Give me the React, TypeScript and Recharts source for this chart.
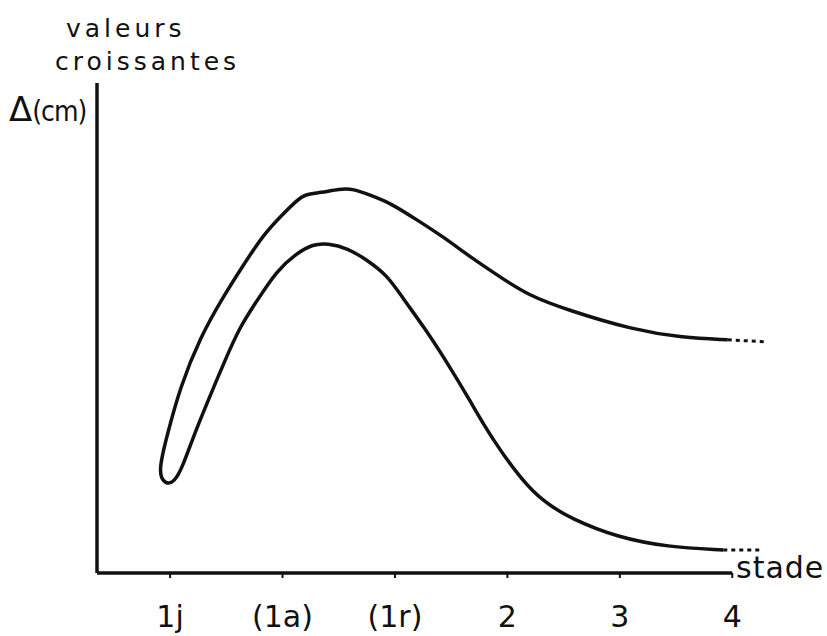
import { LineChart, Line, XAxis, YAxis, ReferenceLine } from 'recharts';

// stage axis: numeric positions and their labels
const stageTicks = [1, 2, 3, 4, 5, 6];
const stageLabels = ['1j', '(1a)', '(1r)', '2', '3', '4'];

// outer (upper) branch, read right to left, down into the loop
const outerX = [5.96, 5.56, 5.12, 4.53, 4.18, 3.91, 3.67, 3.43, 3.2, 2.96, 2.78, 2.63, 2.51, 2.34, 2.2, 2.13, 1.98, 1.83, 1.67, 1.47, 1.27, 1.09, 0.97, 0.89, 0.96, 1.04];
const outerY = [47.6, 48.0, 49.6, 53.7, 56.7, 60.8, 64.5, 68.6, 72.0, 75.5, 77.1, 78.4, 78.4, 77.6, 77.3, 76.1, 72.7, 69.0, 63.5, 56.3, 48.2, 38.0, 27.8, 20.4, 18.0, 18.6];

// inner (lower) branch, from the loop to the right
const innerX = [1.11, 1.22, 1.34, 1.49, 1.62, 1.76, 1.95, 2.13, 2.27, 2.4, 2.58, 2.75, 2.93, 3.07, 3.27, 3.46, 3.67, 3.85, 4.23, 4.59, 4.98, 5.42, 5.92];
const innerY = [21.6, 28.6, 35.3, 43.5, 50.2, 55.1, 61.8, 65.3, 67.1, 67.3, 66.3, 63.9, 60.8, 56.1, 49.8, 43.1, 35.1, 27.8, 15.5, 10.8, 7.3, 5.3, 4.7];

// dotted continuations
const tailUpperX = [5.96, 6.28];
const tailUpperY = [47.6, 47.2];
const tailLowerX = [5.92, 6.25];
const tailLowerY = [4.7, 4.7];

const loopData = [
  ...outerX.map((x, i) => ({ x, y: outerY[i] })),
  ...innerX.map((x, i) => ({ x, y: innerY[i] })),
];
const tailUpper = tailUpperX.map((x, i) => ({ x, y: tailUpperY[i] }));
const tailLower = tailLowerX.map((x, i) => ({ x, y: tailLowerY[i] }));

const font = '"DejaVu Sans", sans-serif';

export default function App() {
  return (
    <div style={{ position: 'absolute', left: 0, top: 0, width: 827, height: 636, background: '#fff', fontFamily: font, color: '#111' }}>
      <LineChart width={827} height={636} margin={{ top: 83, right: 61, bottom: 0, left: 0 }}>
        <XAxis
          type="number"
          dataKey="x"
          domain={[0.35, 6.3]}
          ticks={stageTicks}
          tickFormatter={(v: number) => stageLabels[stageTicks.indexOf(v)] ?? ''}
          axisLine={false}
          tickLine={{ stroke: '#111', strokeWidth: 2 }}
          tickSize={5}
          tickMargin={28}
          tick={{ fill: '#111', fontSize: 30, fontFamily: font }}
          height={63}
        />
        <YAxis
          type="number"
          domain={[0, 100]}
          tick={false}
          tickLine={false}
          axisLine={{ stroke: '#111', strokeWidth: 3.5 }}
          width={97}
        />
        <ReferenceLine
          segment={[{ x: 0.35, y: 0 }, { x: 6, y: 0 }]}
          stroke="#111"
          strokeWidth={3.5}
          ifOverflow="visible"
        />
        <Line data={loopData} dataKey="y" type="basis" stroke="#111" strokeWidth={3.5} dot={false} isAnimationActive={false} />
        <Line data={tailUpper} dataKey="y" type="linear" stroke="#111" strokeWidth={3} strokeDasharray="4 4" dot={false} isAnimationActive={false} />
        <Line data={tailLower} dataKey="y" type="linear" stroke="#111" strokeWidth={3} strokeDasharray="4 4" dot={false} isAnimationActive={false} />
      </LineChart>
      <div style={{ position: 'absolute', left: 66, top: 12, fontSize: 25, letterSpacing: 4, lineHeight: '33px' }}>
        valeurs
      </div>
      <div style={{ position: 'absolute', left: 55, top: 45, fontSize: 25, letterSpacing: 4, lineHeight: '33px' }}>
        croissantes
      </div>
      <div style={{ position: 'absolute', left: 9, top: 89, lineHeight: '40px', whiteSpace: 'nowrap' }}>
        <span style={{ fontSize: 34 }}>Δ</span>
        <span style={{ fontSize: 28, fontFamily: '"DejaVu Sans Condensed", "DejaVu Sans", sans-serif', letterSpacing: -1 }}>(cm)</span>
      </div>
      <div style={{ position: 'absolute', left: 736, top: 550, fontSize: 30, letterSpacing: 1, lineHeight: '36px' }}>
        stade
      </div>
    </div>
  );
}
